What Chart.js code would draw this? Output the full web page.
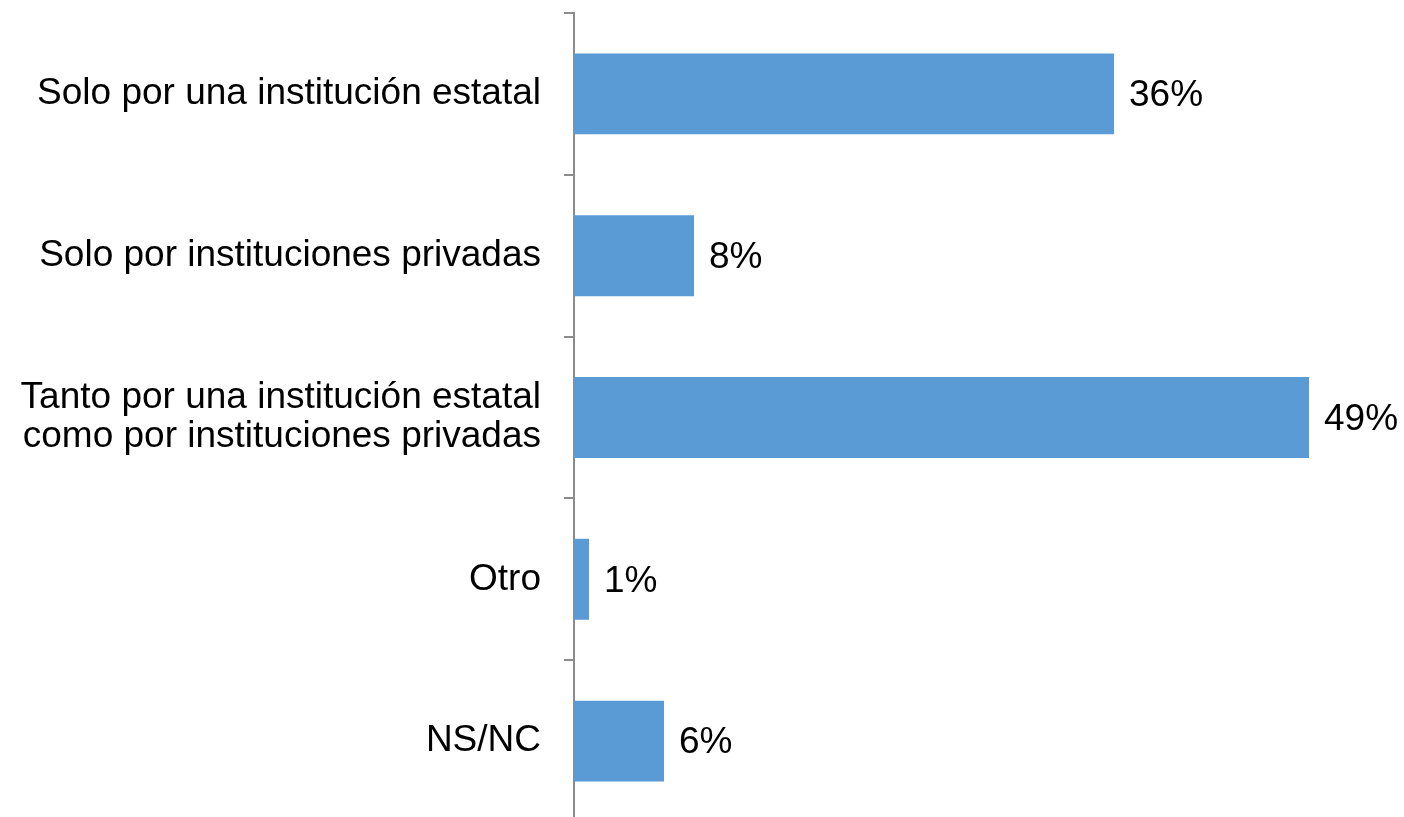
<!DOCTYPE html>
<html>
<head>
<meta charset="utf-8">
<script src="https://cdn.jsdelivr.net/npm/chart.js@4/dist/chart.umd.min.js"></script>
<style>
html,body{margin:0;padding:0;background:#fff;overflow:hidden;width:1404px;height:817px;}
canvas{display:block;}
</style>
</head>
<body>
<canvas id="c" width="1404" height="822"></canvas>
<script>
const categories = [
  "Solo por una institución estatal",
  "Solo por instituciones privadas",
  ["Tanto por una institución estatal", "como por instituciones privadas"],
  "Otro",
  "NS/NC"
];
const values = [36, 8, 49, 1, 6];
const valueLabels = ["36%", "8%", "49%", "1%", "6%"];

const FONT = "'Liberation Sans', Arial, sans-serif";

const valueLabelPlugin = {
  id: 'valueLabels',
  afterDatasetsDraw(chart) {
    const ctx = chart.ctx;
    const meta = chart.getDatasetMeta(0);
    ctx.save();
    ctx.font = "37px " + FONT;
    ctx.fillStyle = "#000";
    ctx.textAlign = "left";
    ctx.textBaseline = "middle";
    meta.data.forEach((bar, i) => {
      ctx.fillText(valueLabels[i], bar.x + 15, bar.y + 2);
    });
    ctx.restore();
  }
};

new Chart(document.getElementById('c'), {
  type: 'bar',
  data: {
    labels: categories,
    datasets: [{
      data: values,
      backgroundColor: '#5B9BD5',
      borderWidth: 0,
      barPercentage: 0.5,
      categoryPercentage: 1.0
    }]
  },
  options: {
    indexAxis: 'y',
    responsive: false,
    animation: false,
    layout: { padding: { top: 13, right: 80, bottom: 0, left: 0 } },
    plugins: { legend: { display: false }, tooltip: { enabled: false } },
    scales: {
      x: {
        display: false,
        min: 0,
        max: 50
      },
      y: {
        afterFit(scale) {
          scale.width = 574;
          scale.paddingTop = 0;
          scale.paddingBottom = 0;
        },
        grid: {
          display: true,
          drawOnChartArea: false,
          drawTicks: true,
          tickLength: 10,
          color: '#8c8c8c',
          lineWidth: 2,
          offset: true
        },
        border: { display: true, color: '#8c8c8c', width: 2 },
        ticks: {
          padding: 23,
          color: '#000',
          font: { family: FONT, size: 37, lineHeight: 1.05 }
        }
      }
    }
  },
  plugins: [valueLabelPlugin]
});
</script>
</body>
</html>
